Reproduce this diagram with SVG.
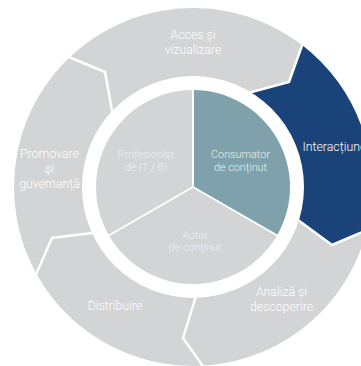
<svg xmlns="http://www.w3.org/2000/svg" width="361" height="366" viewBox="0 0 361 366">
<style>
.gray{fill:#d3d4d6}
.teal{fill:#7ea1ac}
.blue{fill:#1a4379}
.sep{fill:none;stroke:#ffffff;stroke-width:2.5;stroke-linejoin:miter}
.div{fill:none;stroke:#ffffff;stroke-width:2}
.lbl{font-family:Roboto,"Liberation Sans",sans-serif;font-weight:300;font-size:12.3px;fill:#ffffff;text-anchor:middle}
.in{font-family:Roboto,"Liberation Sans",sans-serif;font-weight:300;font-size:10.8px;fill:#eef0f1;text-anchor:middle}
</style>
<rect width="361" height="366" fill="#ffffff"/>
<g id="outer-ring">
<circle cx="193" cy="187" r="179" class="gray"/>
</g>
<g id="seg-interactiune">
<path class="blue" d="M302,45 A179,179 0 0 1 366.7,230.3 L332,245 L302,223 L193,187 L251,92 L289,82 Z"/>
<text class="lbl" x="302.5" y="151" style="text-anchor:start">Interacțiune</text>
</g>
<g id="connectors">
<polyline class="sep" points="64,55 105,72 113,116"/>
<polyline class="sep" points="304,40 289,82 248,93"/>
<polyline class="sep" points="372,228 332,245 298,220"/>
<polyline class="sep" points="196,296 183,338 205,369"/>
<polyline class="sep" points="34,279 52,238 92,233"/>
</g>
<g id="seg-acces">
<text class="lbl" x="193" y="38.5">Acces și</text>
<text class="lbl" x="193" y="53.5">vizualizare</text>
</g>
<g id="seg-analiza">
<text class="lbl" x="281.5" y="296">Analiză și</text>
<text class="lbl" x="281.5" y="311">descoperire</text>
</g>
<g id="seg-distribuire">
<text class="lbl" x="115" y="309.5">Distribuire</text>
</g>
<g id="seg-promovare">
<text class="lbl" x="49.5" y="158">Promovare</text>
<text class="lbl" x="49.5" y="173">și</text>
<text class="lbl" x="49.5" y="188">guvernanță</text>
</g>
<circle cx="193" cy="187" r="111" fill="#ffffff"/>
<g id="pie-profesionist">
<path class="gray" d="M193,187 L193,90 A97,97 0 0 0 109,235.5 Z"/>
<text class="in" x="146" y="158">Profesionist</text>
<text class="in" x="146" y="170.5">de IT / BI</text>
</g>
<g id="pie-consumator">
<path class="teal" d="M193,187 L193,90 A97,97 0 0 1 277,235.5 Z"/>
<text class="in" x="240.5" y="158">Consumator</text>
<text class="in" x="240.5" y="170.5">de conținut</text>
</g>
<g id="pie-autor">
<path class="gray" d="M193,187 L277,235.5 A97,97 0 0 1 109,235.5 Z"/>
<text class="in" x="195" y="238.5">Autor</text>
<text class="in" x="195" y="250.5">de conținut</text>
</g>
<g id="pie-dividers">
<line class="div" x1="193" y1="187" x2="193" y2="88"/>
<line class="div" x1="193" y1="187" x2="279" y2="236.5"/>
<line class="div" x1="193" y1="187" x2="107" y2="236.5"/>
</g>
</svg>
